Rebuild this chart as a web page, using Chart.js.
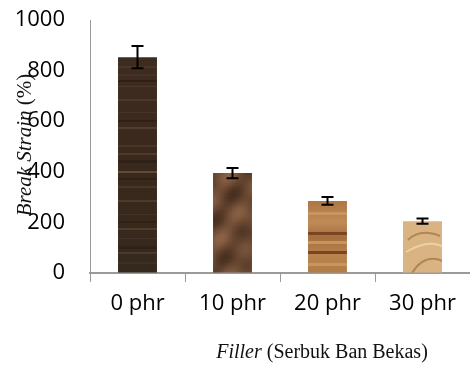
<!DOCTYPE html>
<html>
<head>
<meta charset="utf-8">
<script src="https://cdn.jsdelivr.net/npm/chart.js@4.4.1/dist/chart.umd.min.js"></script>
<style>
  html, body { margin: 0; padding: 0; background: #fff; }
  #wrap { width: 470px; height: 365px; position: relative; }
</style>
</head>
<body>
<div id="wrap"><canvas id="myChart" width="470" height="365"></canvas></div>
<script>
// data
const categories = ['0 phr', '10 phr', '20 phr', '30 phr'];
const breakStrain = [853, 395, 285, 205];
const errorValues = [44, 20, 15, 10];
const yTicks = [0, 200, 400, 600, 800, 1000];

/*--------------------- wood-ish textures for the bars ---------------------*/
function makeCanvas() {
  const c = document.createElement('canvas');
  c.width = 470; c.height = 365;
  return c;
}

// dark brown striped wood
function darkWood(ctx) {
  const c = makeCanvas(), g = c.getContext('2d');
  const grad = g.createLinearGradient(0, 57, 0, 273);
  grad.addColorStop(0, '#3f2c20');
  grad.addColorStop(0.5, '#3a281c');
  grad.addColorStop(1, '#35291d');
  g.fillStyle = grad;
  g.fillRect(0, 0, 470, 365);
  const stripes = [[66, 2, '#4a3627'], [74, 2, '#46322a'], [86, 1, '#4d3a2b'], [99, 2, '#4b3828'],
    [112, 1, '#473424'], [127, 2, '#513d2c'], [145, 2, '#4a3627'], [153, 2, '#4f3b2a'],
    [171, 2, '#5e4a36'], [186, 2, '#4a3627'], [200, 2, '#4e3a29'], [214, 1, '#463325'],
    [228, 2, '#4f3c2c'], [238, 1, '#45332a'], [252, 2, '#4a3828'], [262, 2, '#3f3024']];
  stripes.forEach(([y, h, col]) => { g.fillStyle = col; g.fillRect(0, y, 470, h); });
  const dark = [[80, 2], [120, 2], [160, 3], [178, 2], [221, 2], [246, 3]];
  g.fillStyle = '#2f2118';
  dark.forEach(([y, h]) => g.fillRect(0, y, 470, h));
  return ctx.createPattern(c, 'no-repeat');
}

// mottled brown marble
function marble(ctx) {
  const c = makeCanvas(), g = c.getContext('2d');
  g.fillStyle = '#5a3d29';
  g.fillRect(0, 0, 470, 365);
  for (let y = 165; y < 280; y += 2) {
    for (let x = 210; x < 260; x += 2) {
      const v = Math.sin(x * 0.21 + y * 0.13) + Math.sin(x * 0.07 - y * 0.19) + Math.cos((x + y) * 0.11);
      const t = (v + 3) / 6;
      const r = Math.round(70 + t * 70), gr = Math.round(46 + t * 52), b = Math.round(30 + t * 40);
      g.fillStyle = `rgb(${r},${gr},${b})`;
      g.fillRect(x, y, 2, 2);
    }
  }
  return ctx.createPattern(c, 'no-repeat');
}

// orange wood with dark grain
function orangeWood(ctx) {
  const c = makeCanvas(), g = c.getContext('2d');
  const grad = g.createLinearGradient(0, 201, 0, 273);
  grad.addColorStop(0, '#ae7645');
  grad.addColorStop(0.3, '#c08a55');
  grad.addColorStop(0.5, '#a56e3e');
  grad.addColorStop(0.75, '#b9834e');
  grad.addColorStop(1, '#b27b47');
  g.fillStyle = grad;
  g.fillRect(0, 0, 470, 365);
  g.fillStyle = '#7a4520';
  g.fillRect(0, 232, 470, 3);
  g.fillRect(0, 251, 470, 3);
  g.fillStyle = '#c9955f';
  g.fillRect(0, 212, 470, 3);
  g.fillRect(0, 241, 470, 3);
  g.fillRect(0, 263, 470, 3);
  return ctx.createPattern(c, 'no-repeat');
}

// light tan wood with a swirl
function tanWood(ctx) {
  const c = makeCanvas(), g = c.getContext('2d');
  g.fillStyle = '#d9b482';
  g.fillRect(0, 0, 470, 365);
  g.strokeStyle = '#b08656';
  g.lineWidth = 2;
  g.beginPath();
  g.moveTo(408, 240); g.quadraticCurveTo(420, 228, 440, 236);
  g.stroke();
  g.beginPath();
  g.moveTo(412, 273); g.quadraticCurveTo(425, 252, 445, 262);
  g.stroke();
  g.strokeStyle = '#ead2a6';
  g.beginPath();
  g.moveTo(406, 252); g.quadraticCurveTo(430, 238, 445, 248);
  g.stroke();
  return ctx.createPattern(c, 'no-repeat');
}

/*--------------------- plugins ---------------------*/
const errorBars = {
  id: 'errorBars',
  afterDatasetsDraw(chart) {
    const { ctx, scales: { y } } = chart;
    const meta = chart.getDatasetMeta(0);
    ctx.save();
    ctx.strokeStyle = '#000';
    ctx.lineWidth = 2;
    meta.data.forEach((bar, i) => {
      const top = y.getPixelForValue(breakStrain[i] + errorValues[i]);
      const bot = y.getPixelForValue(breakStrain[i] - errorValues[i]);
      ctx.beginPath();
      ctx.moveTo(bar.x, top); ctx.lineTo(bar.x, bot);
      ctx.moveTo(bar.x - 6, top); ctx.lineTo(bar.x + 6, top);
      ctx.moveTo(bar.x - 6, bot); ctx.lineTo(bar.x + 6, bot);
      ctx.stroke();
    });
    ctx.restore();
  }
};

function mixedText(ctx, parts, x, y, size) {
  // parts: [text, italic]; centred on x
  let total = 0;
  parts.forEach(([t, it]) => {
    ctx.font = `${it ? 'italic ' : ''}${size}px "Liberation Serif"`;
    total += ctx.measureText(t).width;
  });
  let cx = x - total / 2;
  parts.forEach(([t, it]) => {
    ctx.font = `${it ? 'italic ' : ''}${size}px "Liberation Serif"`;
    ctx.fillText(t, cx, y);
    cx += ctx.measureText(t).width;
  });
}

const axisTitles = {
  id: 'axisTitles',
  afterDraw(chart) {
    const { ctx } = chart;
    ctx.save();
    ctx.fillStyle = '#111';
    ctx.textBaseline = 'middle';
    ctx.textAlign = 'left';
    mixedText(ctx, [['Filler', true], [' (Serbuk Ban Bekas)', false]], 322, 353, 20);
    ctx.translate(25, 145);
    ctx.rotate(-Math.PI / 2);
    mixedText(ctx, [['Break Strain', true], [' (%)', false]], 0, 0, 21);
    ctx.restore();
  }
};

/*--------------------- chart ---------------------*/
const ctx = document.getElementById('myChart').getContext('2d');

new Chart(ctx, {
  type: 'bar',
  data: {
    labels: categories,
    datasets: [{
      label: 'Break Strain',
      data: breakStrain,
      backgroundColor: [darkWood(ctx), marble(ctx), orangeWood(ctx), tanWood(ctx)],
      borderWidth: 0,
      categoryPercentage: 1,
      barPercentage: 0.41
    }]
  },
  options: {
    responsive: false,
    animation: false,
    devicePixelRatio: 1,
    layout: { padding: { top: 20, right: 0, left: 0, bottom: 0 } },
    plugins: {
      legend: { display: false },
      tooltip: { enabled: false }
    },
    scales: {
      x: {
        grid: { drawOnChartArea: false, drawTicks: true, tickLength: 9, color: '#9a9a9a', offset: true },
        border: { color: '#9a9a9a', width: 2 },
        ticks: { color: '#000', font: { family: 'Open Sans', size: 22 }, padding: 9 },
        afterFit: (scale) => { scale.height = 92; }
      },
      y: {
        min: 0,
        max: 1000,
        afterBuildTicks: (scale) => { scale.ticks = yTicks.map(v => ({ value: v })); },
        grid: { drawOnChartArea: false, drawTicks: false },
        border: { color: '#9a9a9a', width: 1 },
        ticks: { color: '#000', font: { family: 'Open Sans', size: 22 }, padding: 25, callback: (v) => String(v) },
        afterFit: (scale) => {
          scale.width = 90;
          scale.paddingTop = 0;
          scale.paddingBottom = 0;
        }
      }
    }
  },
  plugins: [errorBars, axisTitles]
});
</script>
</body>
</html>
